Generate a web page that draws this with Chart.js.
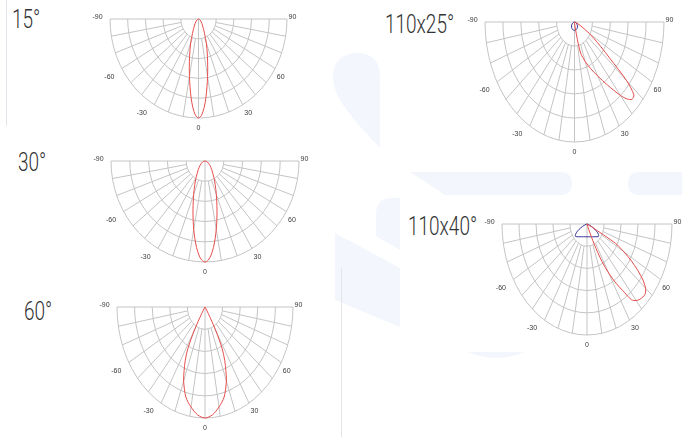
<!DOCTYPE html>
<html><head><meta charset="utf-8">
<script src="https://cdn.jsdelivr.net/npm/chart.js@4/dist/chart.umd.min.js"></script>
<style>
html,body{margin:0;padding:0;background:#fff;}
body{width:682px;height:437px;position:relative;overflow:hidden;}
canvas{position:absolute;}
svg.bg{position:absolute;left:0;top:0;}
.t{position:absolute;font-family:Roboto,"Open Sans",sans-serif;font-weight:300;font-size:25px;color:#333;line-height:1;transform:scaleX(0.76);transform-origin:0 0;white-space:nowrap;}
.vl{position:absolute;width:1px;background:#e3e5ea;}
</style></head><body>
<svg class="bg" width="682" height="437">
  <g fill="#f3f6fc">
    <path d="M333,76 C333,62 343,53 357,53 C372,53 380,62 380,76 L380,148 C352,118 333,98 333,76 Z"/>
    <path d="M410,172 L560,172 Q572,172 572,184 Q572,195 560,195 L445,195 Z"/>
    <path d="M640,172 L682,172 L682,195 L640,195 Q628,195 628,184 Q628,172 640,172 Z"/>
    <path d="M376,214 Q376,198 392,198 L400,198 L400,250 L376,236 Z"/>
    <path d="M335,233 L400,268 L400,327 L335,300 Z"/>
    <path d="M468,352 Q497,364 525,352 Z"/>
  </g>
</svg>
<div class="vl" style="left:6px;top:0;height:126px;"></div>
<div class="vl" style="left:341px;top:268px;height:169px;"></div>

<div class="t" style="left:12px;top:7px;">15°</div>
<div class="t" style="left:18px;top:150px;">30°</div>
<div class="t" style="left:24px;top:299px;">60°</div>
<div class="t" style="left:385px;top:12px;">110x25°</div>
<div class="t" style="left:408px;top:214px;">110x40°</div>

<canvas id="c1"></canvas>
<canvas id="c2"></canvas>
<canvas id="c3"></canvas>
<canvas id="c4"></canvas>
<canvas id="c5"></canvas>

<script>
// ---- axis / grid definitions ----
const TICK_ANGLES = [-90, -60, -30, 0, 30, 60, 90];
const TICK_LABELS = ['-90', '-60', '-30', '0', '30', '60', '90'];
const RINGS = [0.2, 0.4, 0.6, 0.8, 1.0];
const SPOKES = [-80, -70, -60, -50, -40, -30, -20, -10, 0, 10, 20, 30, 40, 50, 60, 70, 80];

// ---- 15° beam (symmetric, half profile, degrees from nadir) ----
const ANG_SYM = [0, 2, 4, 6, 8, 10, 12, 15, 20, 25, 30, 40, 50, 60, 70, 80, 90];
const I_15 = [1, 0.973, 0.90, 0.80, 0.69, 0.59, 0.50, 0.39, 0.26, 0.16, 0.11, 0.06, 0.035, 0.02, 0.01, 0.004, 0];
// ---- 30° beam ----
const I_30 = [1, 0.982, 0.933, 0.86, 0.776, 0.689, 0.605, 0.494, 0.352, 0.256, 0.19, 0.111, 0.069, 0.043, 0.025, 0.012, 0];
// ---- 60° beam ----
const ANG_60 = [0, 5, 10, 15, 20, 22.5, 25, 27.5, 30, 32.5, 35, 40, 90];
const I_60 = [1, 0.975, 0.915, 0.84, 0.71, 0.62, 0.53, 0.42, 0.24, 0.07, 0.015, 0, 0];
// ---- 110x25° (red = asymmetric plane, blue = other plane) ----
const ANG_R25 = [0, 5, 10, 12.5, 15, 20, 25, 30, 35, 40, 42.5, 45, 47.5, 50, 52.5, 55, 57.5, 60, 65, 70, 75, 80];
const I_R25 = [0, 0.01, 0.05, 0.15, 0.27, 0.35, 0.43, 0.52, 0.64, 0.80, 0.87, 0.91, 0.90, 0.76, 0.50, 0.36, 0.26, 0.19, 0.08, 0.03, 0.01, 0];
const ANG_B25 = [-90, -75, -60, -45, -30, -15, 0, 15, 30, 45, 60, 75, 90];
const I_B25 = [0, 0.012, 0.03, 0.047, 0.06, 0.067, 0.07, 0.067, 0.06, 0.047, 0.03, 0.012, 0];
// ---- 110x40° ----
const ANG_R40 = [15, 20, 22.5, 25, 27.5, 30, 32.5, 35, 37.5, 40, 42.5, 45, 47.5, 50, 52.5, 55, 57.5, 60, 62.5, 65, 67.5, 70, 75];
const I_R40 = [0, 0, 0.05, 0.2, 0.38, 0.51, 0.63, 0.73, 0.86, 0.90, 0.92, 0.93, 0.93, 0.90, 0.83, 0.73, 0.62, 0.50, 0.38, 0.06, 0.02, 0, 0];
const ANG_B40 = [-90, -80, -75, -70, -65, -60, -55, -50, -40, -30, -20, -10, 0, 10, 20, 30, 40, 50, 55, 60, 65, 70, 75, 80, 90];
const I_B40 = [0, 0, 0.01, 0.035, 0.08, 0.13, 0.165, 0.175, 0.15, 0.133, 0.122, 0.117, 0.115, 0.117, 0.122, 0.133, 0.15, 0.175, 0.165, 0.13, 0.08, 0.035, 0.01, 0, 0];

const RED = '#e64c4c', BLUE = '#33339a', GRID = '#c4c4c4';

function mirror(ang, val) {
  const a = [], v = [];
  for (let i = ang.length - 1; i > 0; i--) { a.push(-ang[i]); v.push(val[i]); }
  for (let i = 0; i < ang.length; i++) { a.push(ang[i]); v.push(val[i]); }
  return [a, v];
}
function toXY(ang, val) {
  return ang.map((a, i) => {
    const t = a * Math.PI / 180;
    return { x: val[i] * Math.sin(t), y: -val[i] * Math.cos(t) };
  });
}

const gridPlugin = {
  id: 'polarGrid',
  beforeDatasetsDraw(chart) {
    const { ctx } = chart; const x = chart.scales.x, y = chart.scales.y;
    const cx = x.getPixelForValue(0), cy = y.getPixelForValue(0);
    const ax = x.getPixelForValue(1) - cx, ay = y.getPixelForValue(-1) - cy;
    ctx.save();
    ctx.strokeStyle = GRID; ctx.lineWidth = 1;
    RINGS.forEach(r => { ctx.beginPath(); ctx.ellipse(cx, cy, r * ax, r * ay, 0, 0, Math.PI); ctx.stroke(); });
    SPOKES.forEach(a => {
      const t = a * Math.PI / 180, r0 = a === 0 ? 0 : RINGS[0];
      ctx.beginPath();
      ctx.moveTo(cx + r0 * ax * Math.sin(t), cy + r0 * ay * Math.cos(t));
      ctx.lineTo(cx + ax * Math.sin(t), cy + ay * Math.cos(t));
      ctx.stroke();
    });
    ctx.beginPath(); ctx.moveTo(cx - ax, cy); ctx.lineTo(cx + ax, cy); ctx.stroke();
    ctx.fillStyle = '#3a3a3a'; ctx.font = '7px "Liberation Sans", Arial, sans-serif';
    ctx.textAlign = 'center'; ctx.textBaseline = 'middle';
    TICK_ANGLES.forEach((a, i) => {
      const t = a * Math.PI / 180;
      let px = cx + ax * Math.sin(t), py = cy + ay * Math.cos(t);
      const dx = a < 0 ? -12.5 : (a > 0 ? 5.5 : 0);
      const dy = Math.abs(a) === 90 ? -2 : (a === 0 ? 10 : 8.3);
      ctx.fillText(TICK_LABELS[i], px + dx, py + dy);
    });
    ctx.restore();
  }
};

function makeChart(id, box, series) {
  const P = { l: 24, r: 24, t: 8, b: 16 };
  const w = Math.round(2 * box.rx), h = Math.round(box.ry);
  const cv = document.getElementById(id);
  cv.width = w + P.l + P.r; cv.height = h + P.t + P.b;
  cv.style.width = cv.width + 'px'; cv.style.height = cv.height + 'px';
  cv.style.left = (Math.round(box.cx - box.rx) - P.l) + 'px';
  cv.style.top = (Math.round(box.top) - P.t) + 'px';
  new Chart(cv.getContext('2d'), {
    type: 'scatter',
    data: { datasets: series.map(s => ({ data: s.data, showLine: true, borderColor: s.color, borderWidth: 1, pointRadius: 0, tension: 0.3, fill: false, clip: false })) },
    options: {
      responsive: false, animation: false,
      layout: { padding: { left: P.l, right: P.r, top: P.t, bottom: P.b } },
      scales: { x: { type: 'linear', min: -1, max: 1, display: false }, y: { type: 'linear', min: -1, max: 0, display: false } },
      plugins: { legend: { display: false }, tooltip: { enabled: false } }
    },
    plugins: [gridPlugin]
  });
}

const m15 = mirror(ANG_SYM, I_15), m30 = mirror(ANG_SYM, I_30), m60 = mirror(ANG_60, I_60);
makeChart('c1', { cx: 198.5, top: 19, rx: 88.5, ry: 99 }, [{ data: toXY(m15[0], m15[1]), color: RED }]);
makeChart('c2', { cx: 205, top: 161, rx: 94, ry: 101 }, [{ data: toXY(m30[0], m30[1]), color: RED }]);
makeChart('c3', { cx: 205.3, top: 307, rx: 88, ry: 111 }, [{ data: toXY(m60[0], m60[1]), color: RED }]);
makeChart('c4', { cx: 574.7, top: 22, rx: 89.7, ry: 120 }, [
  { data: toXY(ANG_R25, I_R25), color: RED },
  { data: toXY(ANG_B25, I_B25), color: BLUE }]);
makeChart('c5', { cx: 586.5, top: 224, rx: 85, ry: 110.5 }, [
  { data: toXY(ANG_R40, I_R40), color: RED },
  { data: toXY(ANG_B40, I_B40), color: BLUE }]);
</script>
</body></html>
